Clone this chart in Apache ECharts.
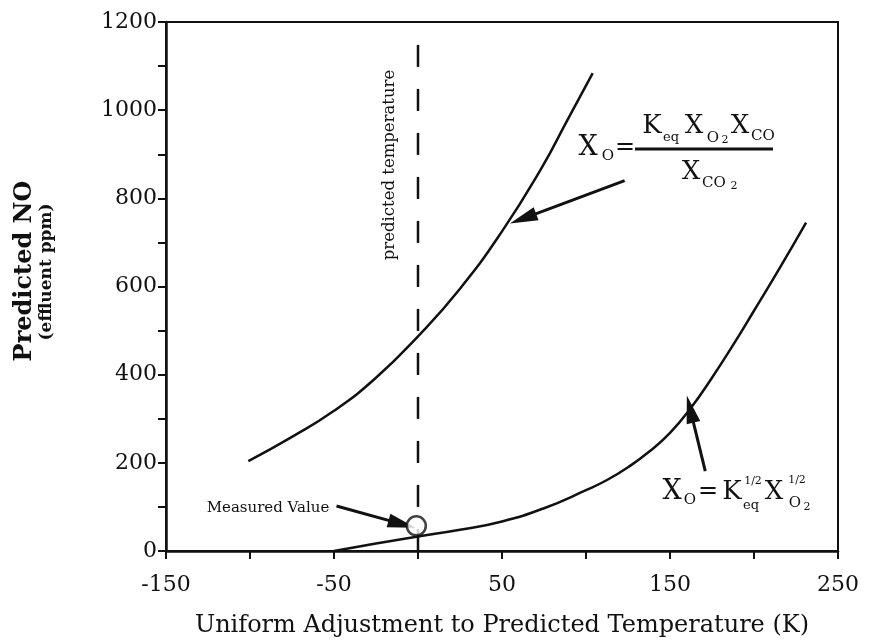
<!DOCTYPE html>
<html>
<head>
<meta charset="utf-8">
<script src="https://cdn.jsdelivr.net/npm/echarts@6/dist/echarts.min.js"></script>
<style>
  html, body { margin: 0; padding: 0; background: #ffffff; }
  #chart { width: 874px; height: 643px; }
</style>
</head>
<body>
<div id="chart"></div>
<script>
// Predicted NO (ppm) vs. uniform temperature offset (K), two equilibrium models
const xFullEquilibrium = [-101, -75, -50, -25, 0, 25, 50, 73, 89, 104];
const yFullEquilibrium = [204, 259, 318, 393, 487, 595, 725, 865, 978, 1084];

const xHalfOrder = [-50, -25, 0, 25, 50, 75, 100, 112.5, 125, 137.5, 150, 162.5, 175, 187.5, 200, 215, 231];
const yHalfOrder = [0, 17, 33, 48, 67, 97, 138, 161, 190, 225, 268, 325, 393, 467, 545, 640, 745];

// Measured effluent NO at the predicted temperature
const measuredPoint = [-1, 57];
// Predicted temperature marker (offset 0), drawn from top of the frame to the axis
const predictedTempX = 0;
const predictedTempSpan = [1148, 0];

// Labelled ticks
const xLabelTicks = [-150, -50, 50, 150, 250];
const yLabelTicks = [0, 200, 400, 600, 800, 1000, 1200];

// Annotation arrows: [tail, head] in data coordinates
const arrowFull = [[123, 840], [62.5, 754]];
const arrowHalf = [[171, 181], [162, 322]];
const arrowMeasured = [[-48.5, 102], [-9.5, 61]];

const zip = (xs, ys) => xs.map((x, i) => [x, ys[i]]);

const SERIF = '"DejaVu Serif", "Liberation Serif", serif';
const INK = '#111';

const chart = echarts.init(document.getElementById('chart'), null, { renderer: 'canvas' });

function txt(text, x, y, size, opts) {
  return Object.assign({
    type: 'text',
    x: x, y: y,
    style: {
      text: text,
      font: (opts && opts.weight ? opts.weight + ' ' : '') + size + 'px ' + SERIF,
      fill: INK,
      align: 'center',
      verticalAlign: 'middle'
    },
    z: 100
  }, opts && opts.extra ? opts.extra : {});
}

const arrowLine = (pair) => [{ coord: pair[0] }, { coord: pair[1] }];

const option = {
  animation: false,
  backgroundColor: '#ffffff',
  grid: {
    left: 166, right: 36, top: 22, bottom: 91,
    show: true,
    borderColor: INK,
    borderWidth: 2,
    backgroundColor: 'transparent'
  },
  xAxis: {
    type: 'value',
    min: -150, max: 250, interval: 50,
    name: 'Uniform Adjustment to Predicted Temperature (K)',
    nameLocation: 'middle',
    nameGap: 63,
    nameTextStyle: { fontFamily: SERIF, fontSize: 24, color: INK },
    axisLine: { show: true, onZero: false, lineStyle: { color: INK, width: 2.5 } },
    axisTick: { show: true, inside: false, length: 8, lineStyle: { color: INK, width: 2 } },
    axisLabel: {
      fontFamily: SERIF, fontSize: 22, color: INK, margin: 23,
      formatter: (v) => (xLabelTicks.indexOf(v) >= 0 ? String(v) : '')
    },
    splitLine: { show: false }
  },
  yAxis: {
    type: 'value',
    min: 0, max: 1200, interval: 100,
    axisLine: { show: true, onZero: false, lineStyle: { color: INK, width: 2.5 } },
    axisTick: { show: true, inside: false, length: 8, lineStyle: { color: INK, width: 2 } },
    axisLabel: {
      fontFamily: SERIF, fontSize: 22, color: INK, margin: 9,
      formatter: (v) => (yLabelTicks.indexOf(v) >= 0 ? String(v) : '')
    },
    splitLine: { show: false }
  },
  series: [
    {
      name: 'full equilibrium',
      type: 'line',
      data: zip(xFullEquilibrium, yFullEquilibrium),
      smooth: 0.5,
      showSymbol: false,
      lineStyle: { color: INK, width: 2.5 },
      markLine: {
        silent: true,
        symbol: ['none', 'triangle'],
        symbolSize: [14, 28],
        lineStyle: { color: INK, width: 3, type: 'solid' },
        label: { show: false },
        data: [arrowLine(arrowFull), arrowLine(arrowHalf), arrowLine(arrowMeasured)]
      },
      z: 3
    },
    {
      name: 'half-order O2',
      type: 'line',
      data: zip(xHalfOrder, yHalfOrder),
      smooth: 0.5,
      showSymbol: false,
      lineStyle: { color: INK, width: 2.5 },
      z: 3
    },
    {
      name: 'predicted temperature',
      type: 'line',
      data: predictedTempSpan.map((v) => [predictedTempX, v]),
      showSymbol: false,
      lineStyle: { color: INK, width: 2.5, type: [22, 22] },
      z: 2
    },
    {
      name: 'measured value',
      type: 'scatter',
      data: [measuredPoint],
      symbol: 'circle',
      symbolSize: 19,
      itemStyle: { color: '#ffffff', borderColor: INK, borderWidth: 2.5 },
      z: 5
    }
  ],
  graphic: [
    // y axis title
    txt('Predicted NO', 25, 271, 24, { weight: 'bold', extra: { rotation: Math.PI / 2 } }),
    txt('(effluent ppm)', 47, 272, 17, { weight: 'bold', extra: { rotation: Math.PI / 2 } }),
    // vertical label beside the dashed marker
    txt('predicted temperature', 390, 165, 16.5, { extra: { rotation: Math.PI / 2 } }),
    // measured value label
    txt('Measured Value', 268, 508, 15),

    // X_O = K_eq X_O2 X_CO / X_CO2
    txt('X', 588, 148, 27),
    txt('O', 608, 156, 15),
    txt('=', 625, 148, 24),
    txt('K', 652, 126, 26),
    txt('eq', 671, 138, 13),
    txt('X', 694, 126, 26),
    txt('O', 713, 138, 15),
    txt('2', 725, 140, 11),
    txt('X', 740, 126, 26),
    txt('CO', 763, 136, 15),
    {
      type: 'line', z: 100,
      shape: { x1: 635, y1: 149, x2: 773, y2: 149 },
      style: { stroke: INK, lineWidth: 3 }
    },
    txt('X', 691, 172, 26),
    txt('CO', 714, 183, 15),
    txt('2', 734, 186, 11),

    // X_O = K_eq^(1/2) X_O2^(1/2)
    txt('X', 672, 492, 27),
    txt('O', 690, 500, 15),
    txt('=', 708, 492, 24),
    txt('K', 732, 492, 26),
    txt('1/2', 753, 481, 11),
    txt('eq', 751, 506, 13),
    txt('X', 774, 492, 26),
    txt('1/2', 797, 480, 11),
    txt('O', 795, 503, 15),
    txt('2', 807, 507, 11)
  ]
};

chart.setOption(option);
</script>
</body>
</html>
